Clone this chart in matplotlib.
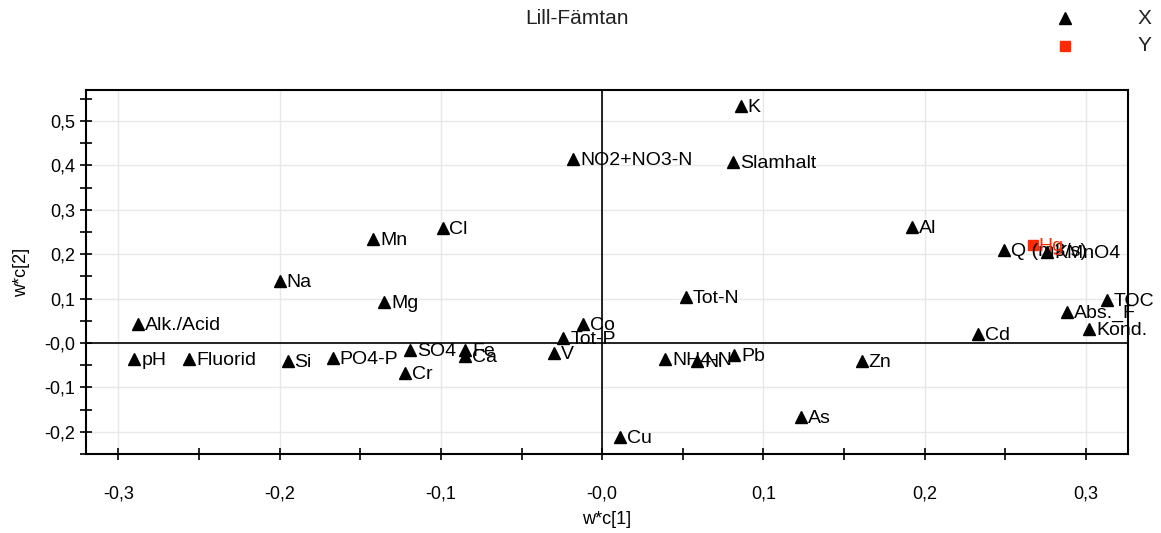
import matplotlib.pyplot as plt
from matplotlib.lines import Line2D
from matplotlib.ticker import FuncFormatter, MultipleLocator

plt.rcParams['font.family'] = ['Liberation Sans', 'DejaVu Sans']

# loadings, X block
x_names = ['K', 'NO2+NO3-N', 'Slamhalt', 'Al', 'Q (m3/s)', 'KMnO4', 'TOC',
           'Abs._F', 'Kond.', 'Cd', 'Zn', 'As', 'Cu', 'Pb', 'NH4-N', 'Ni',
           'Tot-N', 'Co', 'Tot-P', 'V', 'Cl', 'Mn', 'Na', 'Mg', 'Alk./Acid',
           'pH', 'Fluorid', 'Si', 'PO4-P', 'SO4', 'Fe', 'Ca', 'Cr']
x_wc1 = [0.086, -0.018, 0.081, 0.192, 0.249, 0.276, 0.313,
         0.288, 0.302, 0.233, 0.161, 0.123, 0.011, 0.082, 0.039, 0.059,
         0.052, -0.012, -0.024, -0.030, -0.099, -0.142, -0.200, -0.135, -0.288,
         -0.290, -0.256, -0.195, -0.167, -0.119, -0.085, -0.085, -0.122]
x_wc2 = [0.534, 0.414, 0.408, 0.261, 0.209, 0.205, 0.097,
         0.070, 0.032, 0.020, -0.041, -0.167, -0.212, -0.027, -0.036, -0.040,
         0.104, 0.043, 0.011, -0.023, 0.259, 0.234, 0.140, 0.092, 0.043,
         -0.036, -0.036, -0.041, -0.034, -0.016, -0.016, -0.029, -0.068]

# loadings, Y block
y_names = ['Hg']
y_wc1 = [0.267]
y_wc2 = [0.221]

red = '#ff2a00'

fig = plt.figure(figsize=(11.61, 5.33), dpi=100)
ax = fig.add_axes([0.0741, 0.1482, 0.8975, 0.6829])

ax.plot(x_wc1, x_wc2, ls='none', marker='^', ms=8, color='black', zorder=3)
for name, a, b in zip(x_names, x_wc1, x_wc2):
    ax.annotate(name, (a, b), xytext=(5, -1), textcoords='offset points',
                ha='left', va='center', fontsize=14, zorder=4)

ax.plot(y_wc1, y_wc2, ls='none', marker='s', ms=7, color=red, zorder=3)
for name, a, b in zip(y_names, y_wc1, y_wc2):
    ax.annotate(name, (a, b), xytext=(4, -1), textcoords='offset points',
                ha='left', va='center', fontsize=14, color=red, zorder=4)

ax.set_xlim(-0.320, 0.326)
ax.set_ylim(-0.250, 0.570)
ax.axhline(0, color='black', lw=1.2, zorder=2)
ax.axvline(0, color='black', lw=1.2, zorder=2)

ax.xaxis.set_major_locator(MultipleLocator(0.1))
ax.xaxis.set_minor_locator(MultipleLocator(0.05))
ax.yaxis.set_major_locator(MultipleLocator(0.1))
ax.yaxis.set_minor_locator(MultipleLocator(0.05))


def comma_fmt(v, pos):
    if abs(v) < 1e-9:
        return '-0,0'
    return f'{v:.1f}'.replace('.', ',')


ax.xaxis.set_major_formatter(FuncFormatter(comma_fmt))
ax.yaxis.set_major_formatter(FuncFormatter(comma_fmt))
ax.tick_params(which='both', direction='inout', length=8, width=1.2,
               labelsize=13)
ax.tick_params(axis='x', pad=19)
ax.tick_params(axis='y', pad=4)
ax.grid(True, which='major', color='#e8e8e8', lw=1, zorder=0)
for s in ax.spines.values():
    s.set_linewidth(1.5)

ax.set_xlabel('w*c[1]', fontsize=13, labelpad=6)
ax.set_ylabel('w*c[2]', fontsize=13, labelpad=10)

fig.text(0.497, 0.966, 'Lill-Fämtan', ha='center', va='center', fontsize=15,
         color='#222222')

# legend in the top right corner
fig.add_artist(Line2D([0.9173], [0.966], marker='^', ms=8, color='black',
                      ls='none', transform=fig.transFigure))
fig.text(0.986, 0.966, 'X', ha='center', va='center', fontsize=15,
         color='#222222')
fig.add_artist(Line2D([0.9173], [0.914], marker='s', ms=7, color=red,
                      ls='none', transform=fig.transFigure))
fig.text(0.986, 0.914, 'Y', ha='center', va='center', fontsize=15,
         color='#222222')

fig.savefig('out.png', dpi=100)
